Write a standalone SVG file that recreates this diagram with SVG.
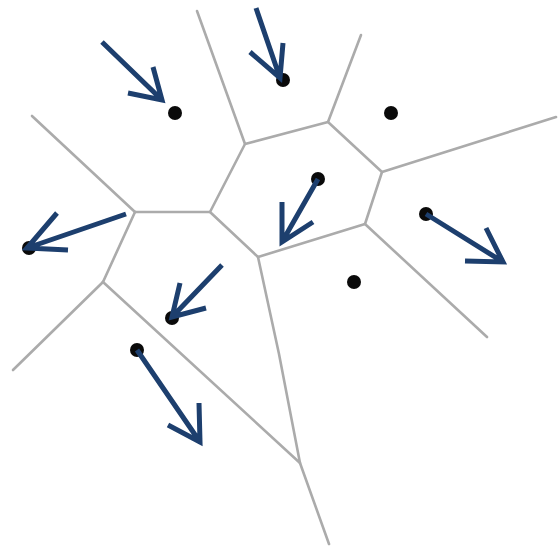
<svg xmlns="http://www.w3.org/2000/svg" width="558" height="548" viewBox="0 0 558 548">
<style>
.edge{stroke:#ababab;stroke-width:2.6;fill:none;stroke-linecap:round;stroke-linejoin:round}
.arrow{stroke:#1d3f6e;stroke-width:5;fill:none;stroke-linecap:butt;stroke-linejoin:miter}
.site{fill:#0a0a0a}
</style>
<rect width="558" height="548" fill="#ffffff"/>
<g id="voronoi-edges">
<path class="edge" d="M245,144 L328,122 L382,172 L365,224 L258,257 L210,212 Z"/>
<path class="edge" d="M245,144 L197,11"/>
<path class="edge" d="M328,122 L361,35"/>
<path class="edge" d="M382,172 L556,117"/>
<path class="edge" d="M365,224 L487,337"/>
<path class="edge" d="M258,257 L279,354 L300,463 L329,544"/>
<path class="edge" d="M210,212 L135,212"/>
<path class="edge" d="M135,212 L32,116"/>
<path class="edge" d="M135,212 L103,282"/>
<path class="edge" d="M103,282 L13,370"/>
<path class="edge" d="M103,282 L300,463"/>
</g>
<g id="sites">
<circle class="site" cx="175" cy="113" r="7"/>
<circle class="site" cx="283" cy="80" r="7"/>
<circle class="site" cx="391" cy="113" r="7"/>
<circle class="site" cx="318" cy="179" r="7"/>
<circle class="site" cx="426" cy="214" r="7"/>
<circle class="site" cx="354" cy="282" r="7"/>
<circle class="site" cx="29" cy="248" r="7"/>
<circle class="site" cx="172" cy="318" r="7"/>
<circle class="site" cx="137" cy="350" r="7"/>
</g>
<g id="arrows">
<g id="arrow1"><path class="arrow" d="M102,42 L162,100 M153,67 L162,100 L128,93"/></g>
<g id="arrow2"><path class="arrow" d="M256,8 L280,78 M283,43 L280,78 L250,52"/></g>
<g id="arrow3"><path class="arrow" d="M318,179 L282,242 M282,202 L282,242 L313,222"/></g>
<g id="arrow4"><path class="arrow" d="M126,214 L27,248 M57,213 L27,248 L68,250"/></g>
<g id="arrow5"><path class="arrow" d="M222,265 L172,317 M180,283 L172,317 L206,308"/></g>
<g id="arrow6"><path class="arrow" d="M137,350 L200,442 M199,403 L200,442 L168,425"/></g>
<g id="arrow7"><path class="arrow" d="M426,214 L503,262 M486,228 L503,262 L465,261"/></g>
</g>
</svg>
